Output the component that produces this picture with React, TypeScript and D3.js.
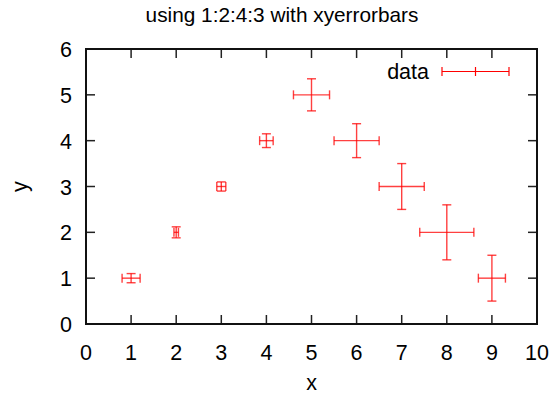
import * as d3 from "d3";

// data columns: x, y, ylow/yhigh as delta, xdelta
const xs = [1, 2, 3, 4, 5, 6, 7, 8, 9];
const ys = [1, 2, 3, 4, 5, 4, 3, 2, 1];
const xDeltas = [0.2, 0.05, 0.1, 0.15, 0.4, 0.5, 0.5, 0.6, 0.3];
const yDeltas = [0.1, 0.12, 0.1, 0.15, 0.35, 0.37, 0.5, 0.6, 0.5];

const xTickValues = [0, 1, 2, 3, 4, 5, 6, 7, 8, 9, 10];
const yTickValues = [0, 1, 2, 3, 4, 5, 6];

export default function App() {
  const width = 555;
  const height = 395;
  const margin = { top: 49, right: 18, bottom: 71, left: 86 };
  const font = "'Liberation Sans', Arial, sans-serif";
  const fs = 21.5;
  const cap = 4.5;
  const red = "#ff0000";

  const x = d3
    .scaleLinear()
    .domain([0, 10])
    .range([margin.left, width - margin.right]);
  const y = d3
    .scaleLinear()
    .domain([0, 6])
    .range([height - margin.bottom, margin.top]);

  const [x0, x1] = x.range();
  const [y0, y1] = y.range();

  const points = xs.map((v, i) => ({
    x: v,
    y: ys[i],
    dx: xDeltas[i],
    dy: yDeltas[i],
  }));

  return (
    <svg
      width={width}
      height={height}
      style={{ position: "absolute", left: 0, top: 0 }}
      fontFamily={font}
      fontSize={fs}
    >
      <rect width={width} height={height} fill="white" />

      {/* ticks, mirrored on all sides */}
      <g stroke="#222" strokeWidth={1.5}>
        {xTickValues.map((t) => (
          <g key={"x" + t}>
            <line x1={x(t)} x2={x(t)} y1={y0} y2={y0 - 9} />
            <line x1={x(t)} x2={x(t)} y1={y1} y2={y1 + 9} />
          </g>
        ))}
        {yTickValues.map((t) => (
          <g key={"y" + t}>
            <line x1={x0} x2={x0 + 9} y1={y(t)} y2={y(t)} />
            <line x1={x1} x2={x1 - 9} y1={y(t)} y2={y(t)} />
          </g>
        ))}
      </g>

      <rect
        x={x0}
        y={y1}
        width={x1 - x0}
        height={y0 - y1}
        fill="none"
        stroke="#111"
        strokeWidth={2}
      />

      {/* tick labels */}
      {xTickValues.map((t) => (
        <text key={"xl" + t} x={x(t)} y={y0 + 36} textAnchor="middle">
          {t}
        </text>
      ))}
      {yTickValues.map((t) => (
        <text key={"yl" + t} x={72} y={y(t) + 8} textAnchor="end">
          {t}
        </text>
      ))}

      {/* error bars */}
      <g stroke={red} strokeWidth={1.4} strokeOpacity={0.75} fill="none">
        {points.map((p, i) => (
          <g key={i}>
            <line x1={x(p.x - p.dx)} x2={x(p.x + p.dx)} y1={y(p.y)} y2={y(p.y)} />
            <line x1={x(p.x - p.dx)} x2={x(p.x - p.dx)} y1={y(p.y) - cap} y2={y(p.y) + cap} />
            <line x1={x(p.x + p.dx)} x2={x(p.x + p.dx)} y1={y(p.y) - cap} y2={y(p.y) + cap} />
            <line x1={x(p.x)} x2={x(p.x)} y1={y(p.y - p.dy)} y2={y(p.y + p.dy)} />
            <line x1={x(p.x) - cap} x2={x(p.x) + cap} y1={y(p.y - p.dy)} y2={y(p.y - p.dy)} />
            <line x1={x(p.x) - cap} x2={x(p.x) + cap} y1={y(p.y + p.dy)} y2={y(p.y + p.dy)} />
          </g>
        ))}
      </g>

      {/* legend */}
      <text x={429} y={79} textAnchor="end">
        data
      </text>
      <g stroke={red} strokeWidth={1.2}>
        <line x1={442} x2={509} y1={71.5} y2={71.5} />
        <line x1={442} x2={442} y1={71.5 - cap} y2={71.5 + cap} />
        <line x1={475.5} x2={475.5} y1={71.5 - cap} y2={71.5 + cap} />
        <line x1={509} x2={509} y1={71.5 - cap} y2={71.5 + cap} />
      </g>

      {/* titles */}
      <text x={282} y={22} textAnchor="middle" fontSize={20.8}>
        using 1:2:4:3 with xyerrorbars
      </text>
      <text x={(x0 + x1) / 2} y={390} textAnchor="middle">
        x
      </text>
      <text
        transform={`translate(27, ${(y0 + y1) / 2}) rotate(-90)`}
        textAnchor="middle"
      >
        y
      </text>
    </svg>
  );
}
